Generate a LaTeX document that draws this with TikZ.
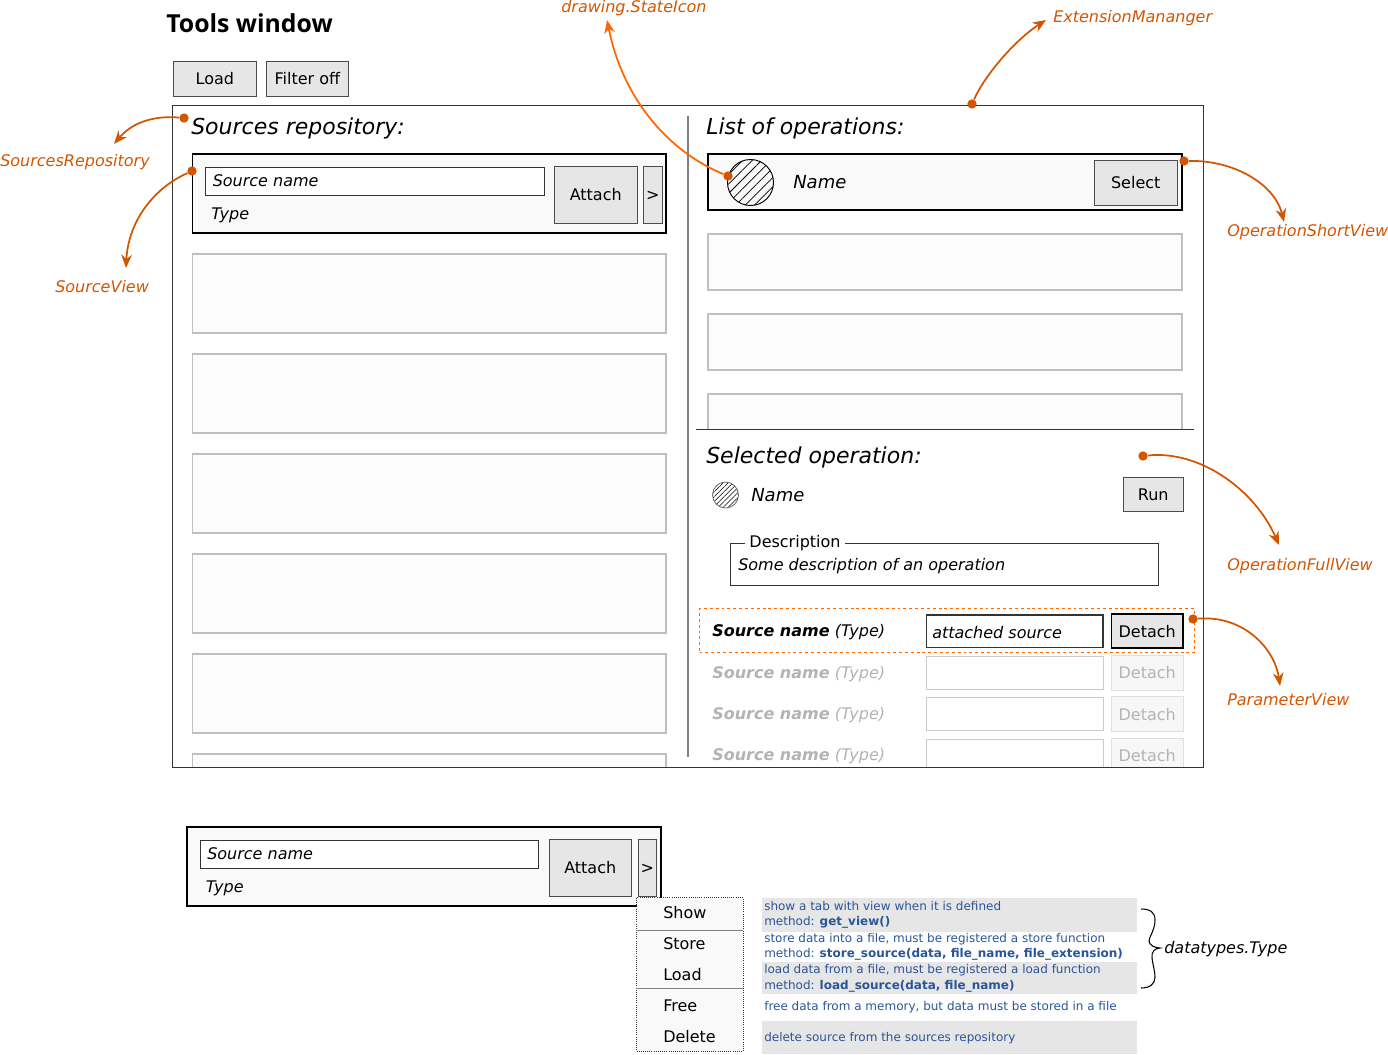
\documentclass[tikz,border=0pt]{standalone}
\usepackage{fontspec}
\setmainfont{DejaVu Sans}
\newfontfamily\titlefont{Open Sans}
\usetikzlibrary{arrows.meta}
\usetikzlibrary{patterns.meta}
\definecolor{notecolor}{HTML}{D45500}
\definecolor{brightnote}{HTML}{FF6600}
\definecolor{methodblue}{HTML}{2A5599}
\definecolor{btnfill}{HTML}{E6E6E6}
\definecolor{offgray}{HTML}{B3B3B3}
\tikzstyle{btn}=[draw=black!70,fill=btnfill,line width=0.75pt,text height=9pt,text depth=0pt]
\tikzstyle{offbtn}=[draw=black!12,fill=black!3,text=offgray,line width=0.75pt,text height=9pt,text depth=0pt]
\tikzstyle{field}=[draw=black!80,fill=white,line width=0.7pt]
\tikzstyle{offfield}=[draw=black!20,fill=white,line width=0.75pt]
\tikzstyle{activeview}=[draw=black,fill=black!2.5,line width=1.4pt]
\tikzstyle{idleview}=[draw=black!25,fill=black!1,line width=1.4pt]
\tikzstyle{bar}=[fill=btnfill]
\tikzstyle{txt}=[anchor=base west,inner sep=0pt,yshift=-0.5pt]
\tikzstyle{note}=[txt,text=notecolor,font=\itshape]
\tikzstyle{method}=[txt,text=methodblue,font=\fontsize{9}{11}\selectfont]
\tikzstyle{dot}=[circle,fill=notecolor,inner sep=0pt,minimum size=7pt]
\tikzstyle{pointer}=[draw=notecolor,line width=1.3pt,-{Stealth[length=10pt,width=8pt]}]
\newcommand{\uirect}[7][]{
\pgfmathsetmacro{\rectw}{(#5-#3)*0.75}
\pgfmathsetmacro{\recth}{(#6-#4)*0.75}
\node[#1,inner sep=0pt,minimum width=\rectw pt,minimum height=\recth pt] (#2) at ({(#3+#5)/2},{(#4+#6)/2}) {#7};
}
\newcommand{\sourceview}[3]{
% #1 name prefix, #2 x shift, #3 y shift
\begin{scope}[shift={(#2,#3)}]
\uirect[activeview]{#1box}{192.5}{154}{666.3}{233.3}{}
\uirect[field]{#1field}{205.5}{167}{544}{195.5}{}
\uirect[btn]{#1attach}{554.5}{166.5}{637}{223}{Attach}
\uirect[btn]{#1more}{643.5}{166.5}{662}{223}{>}
\node[txt,font=\itshape] (#1name) at (212.5,185.5) {Source name};
\node[txt,font=\itshape] (#1type) at (211,218.5) {Type};
\end{scope}
}
\begin{document}
\begin{tikzpicture}[x=0.75pt,y=-0.75pt,node font=\fontsize{12}{14}\selectfont]
\useasboundingbox (0,0) rectangle (1388,1054);
\node[txt,font=\titlefont\bfseries\fontsize{18.6}{22}\selectfont] (title) at (166,31.5) {Tools window};
\uirect[btn]{btnLoad}{173.7}{61}{256}{96}{Load}
\uirect[btn]{btnFilter}{266.3}{61}{348.5}{96}{Filter off}
\uirect[draw=black!80,line width=0.7pt]{frame}{172.5}{105.5}{1203.5}{767}{}
\draw[draw=black!50,line width=1.4pt] (688,116) coordinate (divtop) -- (688,757) coordinate (divbot);
\node[txt,font=\itshape\fontsize{16.5}{20}\selectfont] (headSources) at (191,134) {Sources repository:};
\node[txt,font=\itshape\fontsize{16.5}{20}\selectfont] (headList) at (706,134) {List of operations:};
\sourceview{first}{0}{0}
\begin{scope}
\clip (172.5,105.5) rectangle (1203.5,767);
\foreach \i in {0,...,5} {
	\pgfmathsetmacro{\top}{254+100*\i}
	\pgfmathsetmacro{\bot}{333.3+100*\i}
	\uirect[idleview]{source\i}{192.5}{\top}{666.3}{\bot}{}
}
\end{scope}
% operations list
\uirect[activeview]{opBox}{708}{154}{1182.3}{210.3}{}
\node[circle,draw=black,line width=0.7pt,inner sep=0pt,minimum size=34.5pt,pattern={Lines[angle=45,distance=5pt,line width=0.55pt]}] (opIcon) at (750.5,182.5) {};
\node[txt,font=\itshape\fontsize{13.5}{16}\selectfont] (opName) at (793,188) {Name};
\uirect[btn]{btnSelect}{1094.5}{160}{1177}{205}{Select}
\begin{scope}
\clip (690,105.5) rectangle (1203.5,429.5);
\foreach \i in {0,1,2} {
	\pgfmathsetmacro{\top}{234.3+80*\i}
	\pgfmathsetmacro{\bot}{290.3+80*\i}
	\uirect[idleview]{op\i}{708}{\top}{1182.3}{\bot}{}
}
\end{scope}
\draw[black!80,line width=0.7pt] (696,429.5) coordinate (splitleft) -- (1194,429.5) coordinate (splitright);
% selected operation
\node[txt,font=\itshape\fontsize{16.5}{20}\selectfont] (headSelected) at (706,462.5) {Selected operation:};
\node[circle,draw=black!60,line width=0.6pt,inner sep=0pt,minimum size=19.5pt,pattern={Lines[angle=45,distance=2.6pt,line width=0.4pt]}] (selIcon) at (725.5,495) {};
\node[txt,font=\itshape\fontsize{13.5}{16}\selectfont] (selName) at (751,500.5) {Name};
\uirect[btn]{btnRun}{1123.5}{477.5}{1183}{511.5}{Run}
\uirect[draw=black!80,line width=0.7pt]{descBox}{730}{543}{1158.5}{585}{}
\node[txt,fill=white,inner xsep=3.5pt] (descLabel) at (744.5,546.5) {Description};
\node[txt,font=\itshape] (descText) at (738,569.5) {Some description of an operation};
% parameters
\uirect[draw=brightnote,line width=0.7pt,dash pattern=on 2.2pt off 2.2pt]{paramBox}{699.5}{608.5}{1194.5}{652.5}{}
\node[txt] (paramName) at (712,635.5) {\textbf{\itshape Source name} \itshape (Type)};
\uirect[field,line width=1.1pt]{paramField}{926.5}{615}{1103}{647.5}{}
\node[txt,font=\itshape] (paramValue) at (932,637.5) {attached source};
\uirect[btn,draw=black,line width=1.1pt]{btnDetach}{1111.5}{614}{1183}{648}{Detach}
\begin{scope}
\clip (690,650) rectangle (1203.5,767);
\foreach \i in {0,1,2} {
	\pgfmathsetmacro{\base}{677.5+41*\i}
	\pgfmathsetmacro{\ftop}{656.5+41.25*\i}
	\pgfmathsetmacro{\fbot}{689+41.25*\i}
	\pgfmathsetmacro{\btop}{655+41.5*\i}
	\pgfmathsetmacro{\bbot}{690+41.5*\i}
	\node[txt,text=offgray] (offName\i) at (712,\base) {\textbf{\itshape Source name} \itshape (Type)};
	\uirect[offfield]{offField\i}{926.5}{\ftop}{1103}{\fbot}{}
	\uirect[offbtn]{offBtn\i}{1111.5}{\btop}{1183}{\bbot}{Detach}
}
\end{scope}
\draw[draw=black!80,line width=0.7pt] (172.5,767) -- (1203.5,767);
% context menu
\sourceview{menu}{-5.5}{673}
\uirect[draw=black!80,densely dotted,fill=black!2.5,line width=0.6pt]{menuBox}{636.5}{897.5}{743}{1051}{}
\draw[black!50,line width=0.7pt] (menuBox.west |- 0,930.5) -- (menuBox.east |- 0,930.5);
\draw[black!50,line width=0.7pt] (menuBox.west |- 0,988.5) -- (menuBox.east |- 0,988.5);
\foreach \name/\y in {Show/917.5,Store/948.5,Load/979.5,Free/1010.5,Delete/1041.5} {
	\node[txt] (item\name) at (663,\y) {\name};
}
\uirect[bar]{barShow}{762}{898}{1137}{932}{}
\uirect[bar]{barLoad}{762}{962}{1137}{994}{}
\uirect[bar]{barDelete}{762}{1021}{1137}{1054}{}
\node[method] (showA) at (764,909.5) {show a tab with view when it is defined};
\node[method] (showB) at (764,925) {method: \textbf{get\_view()}};
\node[method] (storeA) at (764,941.5) {store data into a file, must be registered a store function};
\node[method] (storeB) at (764,956.5) {method: \textbf{store\_source(data, file\_name, file\_extension)}};
\node[method] (loadA) at (764,973) {load data from a file, must be registered a load function};
\node[method] (loadB) at (764,988.5) {method: \textbf{load\_source(data, file\_name)}};
\node[method] (freeA) at (764,1009.5) {free data from a memory, but data must be stored in a file};
\node[method] (deleteA) at (764,1040.5) {delete source from the sources repository};
% brace
\coordinate (braceTop) at (1141,909);
\coordinate (braceTip) at (1160,948);
\coordinate (braceBot) at (1141,988);
\draw[black,line width=0.8pt] (braceTop) .. controls (1150,909) and (1155,912) .. (1155,920) .. controls (1155,930) and (1149,937) .. (1149,941) .. controls (1149,945) and (1155,948) .. (braceTip) .. controls (1155,948) and (1151,952) .. (1152,958) .. controls (1153,966) and (1155,971) .. (1155,977) .. controls (1155,984) and (1150,988) .. (braceBot);
\node[txt,font=\itshape] (typeLabel) at (1164,952.5) {datatypes.Type};
% annotations
\node[note] (noteRepo) at (0,166) {SourcesRepository};
\node[note] (noteSource) at (55,292) {SourceView};
\node[note] (noteIcon) at (561,12) {drawing.StateIcon};
\node[note] (noteExt) at (1053,22) {ExtensionMananger};
\node[note] (noteShort) at (1227,236) {OperationShortView};
\node[note] (noteFull) at (1227,570) {OperationFullView};
\node[note] (noteParam) at (1227,705) {ParameterView};
\node[dot] (dotRepo) at (184,118) {};
\node[dot] (dotSource) at (192,171) {};
\node[dot] (dotIcon) at (728,176) {};
\node[dot] (dotExt) at (972,104) {};
\node[dot] (dotShort) at (1184,161) {};
\node[dot] (dotFull) at (1143,456) {};
\node[dot] (dotParam) at (1193,619) {};
\coordinate (tipRepo) at (114,144);
\coordinate (tipSource) at (126,268);
\coordinate (tipIcon) at (607,20);
\coordinate (tipExt) at (1046,20);
\coordinate (tipShort) at (1284,222);
\coordinate (tipFull) at (1279,545);
\coordinate (tipParam) at (1280,686);
\draw[pointer] (dotRepo) .. controls (150,115) and (130,125) .. (tipRepo);
\draw[pointer] (dotSource) .. controls (150,190) and (128,225) .. (tipSource);
\draw[pointer,draw=brightnote] (dotIcon) .. controls (665,150) and (622,95) .. (tipIcon);
\draw[pointer] (dotExt) .. controls (985,75) and (1015,40) .. (tipExt);
\draw[pointer] (dotShort) .. controls (1235,160) and (1275,185) .. (tipShort);
\draw[pointer] (dotFull) .. controls (1200,450) and (1255,490) .. (tipFull);
\draw[pointer] (dotParam) .. controls (1245,615) and (1275,650) .. (tipParam);
\end{tikzpicture}
\end{document}
